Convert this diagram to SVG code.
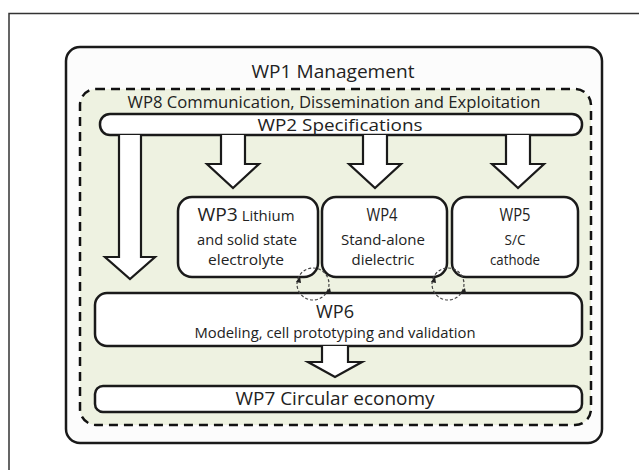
<svg xmlns="http://www.w3.org/2000/svg" width="639" height="470" viewBox="0 0 639 470">
<style>
.t{font-family:"Open Sans","Liberation Sans",sans-serif;fill:#222;text-anchor:middle}
.box{fill:#fff;stroke:#1a1a1a;stroke-width:2.5}
.arr{fill:#fff;stroke:#1a1a1a;stroke-width:2.2;stroke-linejoin:miter}
.circ{fill:none;stroke:#444;stroke-width:1.2;stroke-dasharray:3 2}
</style>
<rect width="639" height="470" fill="#fff"/>
<path d="M9,470 V13.5 H639" fill="none" stroke="#333" stroke-width="1.5"/>
<g id="wp1">
<rect x="66" y="47" width="536" height="396" rx="14" fill="#fcfcfc" stroke="#1a1a1a" stroke-width="2.5"/>
<text class="t" x="333" y="78" font-size="18" textLength="163" lengthAdjust="spacingAndGlyphs">WP1 Management</text>
</g>
<g id="wp8">
<rect x="80" y="89" width="511" height="336" rx="16" fill="#eef2e1" stroke="#111" stroke-width="2.5" stroke-dasharray="9 6"/>
<text class="t" x="334" y="108" font-size="15.5" textLength="413" lengthAdjust="spacingAndGlyphs">WP8 Communication, Dissemination and Exploitation</text>
</g>
<g id="wp2">
<rect class="box" x="100" y="114" width="482" height="21" rx="10"/>
<text class="t" x="340" y="130.5" font-size="17" textLength="165" lengthAdjust="spacingAndGlyphs">WP2 Specifications</text>
</g>
<g id="wp3">
<rect class="box" x="178" y="197" width="140" height="80" rx="14"/>
<text class="t" x="246" y="221" font-size="14" textLength="97" lengthAdjust="spacingAndGlyphs"><tspan font-size="18">WP3</tspan> Lithium</text>
<text class="t" x="247" y="245" font-size="14" textLength="100" lengthAdjust="spacingAndGlyphs">and solid state</text>
<text class="t" x="246" y="265" font-size="14" textLength="76" lengthAdjust="spacingAndGlyphs">electrolyte</text>
</g>
<g id="wp4">
<rect class="box" x="322" y="197" width="125" height="80" rx="14"/>
<text class="t" x="382" y="221" font-size="18" textLength="31" lengthAdjust="spacingAndGlyphs">WP4</text>
<text class="t" x="383" y="245" font-size="14" textLength="84" lengthAdjust="spacingAndGlyphs">Stand-alone</text>
<text class="t" x="383" y="265" font-size="14" textLength="63" lengthAdjust="spacingAndGlyphs">dielectric</text>
</g>
<g id="wp5">
<rect class="box" x="452" y="197" width="126" height="80" rx="14"/>
<text class="t" x="515" y="221" font-size="18" textLength="31" lengthAdjust="spacingAndGlyphs">WP5</text>
<text class="t" x="515" y="245" font-size="14" textLength="21" lengthAdjust="spacingAndGlyphs">S/C</text>
<text class="t" x="515" y="265" font-size="14" textLength="50" lengthAdjust="spacingAndGlyphs">cathode</text>
</g>
<g id="wp6">
<rect class="box" x="95" y="293" width="487" height="53" rx="12"/>
<text class="t" x="335" y="318" font-size="19" textLength="38" lengthAdjust="spacingAndGlyphs">WP6</text>
<text class="t" x="335" y="338" font-size="14" textLength="281" lengthAdjust="spacingAndGlyphs">Modeling, cell prototyping and validation</text>
</g>
<g id="wp7">
<rect class="box" x="95" y="386" width="487" height="26" rx="8"/>
<text class="t" x="335" y="405" font-size="18" textLength="199" lengthAdjust="spacingAndGlyphs">WP7 Circular economy</text>
</g>
<g id="connectors">
<path class="arr" d="M119,135 V257 H105 L130,279 L155,257 H141 V135"/>
<path class="arr" d="M221,135 V164 H207 L233,188 L259,164 H245 V135"/>
<path class="arr" d="M363,135 V164 H349 L375,188 L401,164 H387 V135"/>
<path class="arr" d="M506,135 V164 H492 L518,188 L544,164 H530 V135"/>
<path class="arr" d="M322,346 V362 H308 L335,377 L362,362 H348 V346"/>
<circle class="circ" cx="313" cy="284" r="16"/>
<circle class="circ" cx="448" cy="284" r="16"/>
<path d="M296,282 l4,-6 l1,7 z" fill="#222"/>
<path d="M330,288 l-5,5 l6,0 z" fill="#222"/>
<path d="M431,282 l4,-6 l1,7 z" fill="#222"/>
<path d="M465,288 l-5,5 l6,0 z" fill="#222"/>
</g>
</svg>
